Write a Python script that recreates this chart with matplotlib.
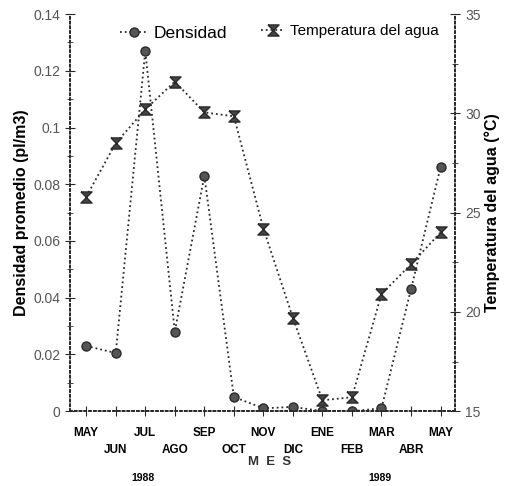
import matplotlib
matplotlib.use("Agg")
import matplotlib.pyplot as plt
from matplotlib.ticker import MultipleLocator, FixedLocator, FuncFormatter

plt.rcParams['font.family'] = ['Liberation Sans Narrow', 'Liberation Sans', 'DejaVu Sans']

months = ["MAY", "JUN", "JUL", "AGO", "SEP", "OCT", "NOV", "DIC", "ENE", "FEB", "MAR", "ABR", "MAY"]
densidad = [0.023, 0.0205, 0.127, 0.028, 0.083, 0.005, 0.001, 0.0015, 0.0, 0.0, 0.001, 0.043, 0.086]
temperatura = [25.8, 28.5, 30.2, 31.6, 30.05, 29.85, 24.2, 19.7, 15.55, 15.7, 20.9, 22.4, 24.0]
years = ["1988", "1989"]

x = list(range(len(months)))
hourglass = [(-1, 1), (1, 1), (-1, -1), (1, -1), (-1, 1)]
ink = "#2a2a2a"

fig = plt.figure(figsize=(5.09, 4.86), dpi=100)
ax = fig.add_axes([0.1375, 0.154, 0.757, 0.817])
ax2 = ax.twinx()

l1, = ax.plot(x, densidad, linestyle=":", color=ink, lw=1.3, marker="o",
              markersize=6.5, markerfacecolor="#555555", markeredgecolor=ink,
              label="Densidad")
l2, = ax2.plot(x, temperatura, linestyle=":", color=ink, lw=1.3, marker=hourglass,
               markersize=8, markerfacecolor="#444444", markeredgecolor=ink,
               label="Temperatura del agua")

ax.set_xlim(-0.55, 12.5)
ax.set_ylim(0, 0.14)
ax2.set_ylim(15, 35)

ax.yaxis.set_major_locator(MultipleLocator(0.02))
ax.yaxis.set_minor_locator(MultipleLocator(0.01))
ax.yaxis.set_major_formatter(FuncFormatter(lambda v, p: f"{v:.2f}".rstrip("0").rstrip(".")))
ax2.yaxis.set_major_locator(MultipleLocator(5))
ax2.yaxis.set_minor_locator(MultipleLocator(2.5))

ax.xaxis.set_major_locator(FixedLocator(x))
labels = [m if i % 2 == 0 else "\n" + m for i, m in enumerate(months)]
ax.set_xticklabels(labels, fontsize=8.5, fontweight="bold", family="Liberation Sans",
                   linespacing=1.55)

for a in (ax, ax2):
    a.tick_params(axis="both", which="both", direction="inout", color=ink)
    a.tick_params(which="major", length=7)
    a.tick_params(which="minor", length=5)
    a.tick_params(axis="y", labelsize=10, labelcolor="#555555")
    for s in a.spines.values():
        s.set_linestyle(":")
        s.set_color(ink)
        s.set_linewidth(1.3)
    a.spines["top"].set_visible(False)
ax.tick_params(axis="x", pad=8)

ax.set_ylabel("Densidad promedio (pl/m3)", fontsize=11.5, fontweight="bold",
              family="Liberation Sans", labelpad=3)
ax2.set_ylabel("Temperatura del agua (°C)", fontsize=11.5, fontweight="bold",
               family="Liberation Sans", labelpad=3)

fig.text(0.53, 0.049, "M  E  S", ha="center", va="center", fontsize=9.5,
         fontweight="bold", family="Liberation Sans", color="#333333")
fig.text(0.28, 0.016, years[0], ha="center", va="center", fontsize=7.5,
         fontweight="bold", family="Liberation Sans")
fig.text(0.747, 0.016, years[1], ha="center", va="center", fontsize=7.5,
         fontweight="bold", family="Liberation Sans")

leg1 = ax.legend(handles=[l1], loc="upper left", bbox_to_anchor=(0.09, 1.01),
                 frameon=False, fontsize=12.5, handlelength=1.6, handletextpad=0.3)
ax.add_artist(leg1)
ax.legend(handles=[l2], loc="upper left", bbox_to_anchor=(0.46, 1.01),
          frameon=False, fontsize=11, handlelength=1.6, handletextpad=0.3)

fig.savefig("out.png", dpi=100)
